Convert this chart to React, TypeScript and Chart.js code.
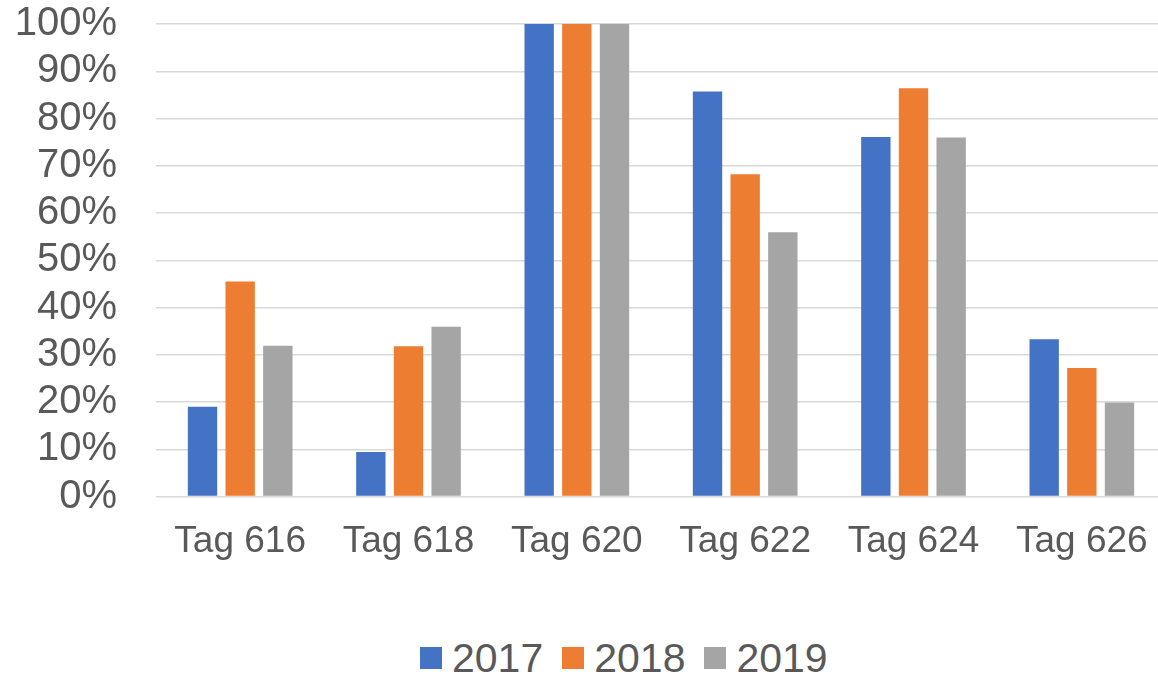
import React, { useEffect, useRef } from "react";
import { Chart, registerables } from "chart.js";

Chart.register(...registerables);

const categories = ["Tag 616", "Tag 618", "Tag 620", "Tag 622", "Tag 624", "Tag 626"];
const seriesNames = ["2017", "2018", "2019"];
const values2017 = [19.0, 9.4, 100, 85.7, 76.1, 33.3];
const values2018 = [45.5, 31.8, 100, 68.2, 86.4, 27.2];
const values2019 = [31.9, 35.9, 100, 55.9, 76.0, 19.9];
const seriesColors = ["#4472C4", "#ED7D31", "#A5A5A5"];

const FONT = '"Liberation Sans", Arial, sans-serif';
const TEXT = "#595959";

export default function App() {
  const ref = useRef<HTMLCanvasElement | null>(null);

  useEffect(() => {
    if (!ref.current) return;
    const seriesValues = [values2017, values2018, values2019];
    const chart = new Chart(ref.current, {
      type: "bar",
      data: {
        labels: categories,
        datasets: seriesNames.map((name, i) => ({
          label: name,
          data: seriesValues[i],
          backgroundColor: seriesColors[i],
          borderWidth: 0,
          categoryPercentage: 0.671,
          barPercentage: 0.78,
        })),
      },
      options: {
        animation: false,
        responsive: false,
        maintainAspectRatio: false,
        layout: { padding: 0 },
        plugins: {
          legend: { display: false },
          tooltip: { enabled: false },
          title: { display: false },
        },
        scales: {
          x: {
            afterFit: (scale: any) => {
              scale.height = 66.5;
              scale.paddingLeft = 0;
              scale.paddingRight = 0;
            },
            grid: { display: false, drawTicks: false },
            border: { display: false },
            ticks: {
              color: TEXT,
              font: { family: FONT, size: 37 },
              padding: 23,
              maxRotation: 0,
              autoSkip: false,
            },
          },
          y: {
            min: 0,
            max: 100,
            afterFit: (scale: any) => {
              scale.width = 156;
              scale.paddingTop = 24;
              scale.paddingBottom = 0;
            },
            grid: { color: "#D9D9D9", lineWidth: 1.5, drawTicks: false },
            border: { display: false },
            ticks: {
              stepSize: 10,
              autoSkip: false,
              color: TEXT,
              font: { family: FONT, size: 40 },
              padding: 39,
              callback: (v: any) => `${Math.round(Number(v))}%`,
            },
          },
        },
      },
    });
    return () => chart.destroy();
  }, []);

  return (
    <div
      style={{
        position: "absolute",
        left: 0,
        top: 0,
        width: 1158,
        height: 675,
        overflow: "hidden",
        background: "#fff",
      }}
    >
      <canvas ref={ref} width={1166} height={563} style={{ width: 1166, height: 563, display: "block" }} />
      <div
        style={{
          position: "absolute",
          left: 420,
          top: 636,
          height: 44,
          display: "flex",
          alignItems: "center",
          fontFamily: FONT,
          fontSize: 41,
          color: TEXT,
          whiteSpace: "nowrap",
        }}
      >
        {seriesNames.map((name, i) => (
          <div key={name} style={{ display: "flex", alignItems: "center", marginRight: i < 2 ? 19 : 0 }}>
            <span style={{ display: "inline-block", width: 22, height: 22, background: seriesColors[i], marginRight: 10 }} />
            <span>{name}</span>
          </div>
        ))}
      </div>
    </div>
  );
}
